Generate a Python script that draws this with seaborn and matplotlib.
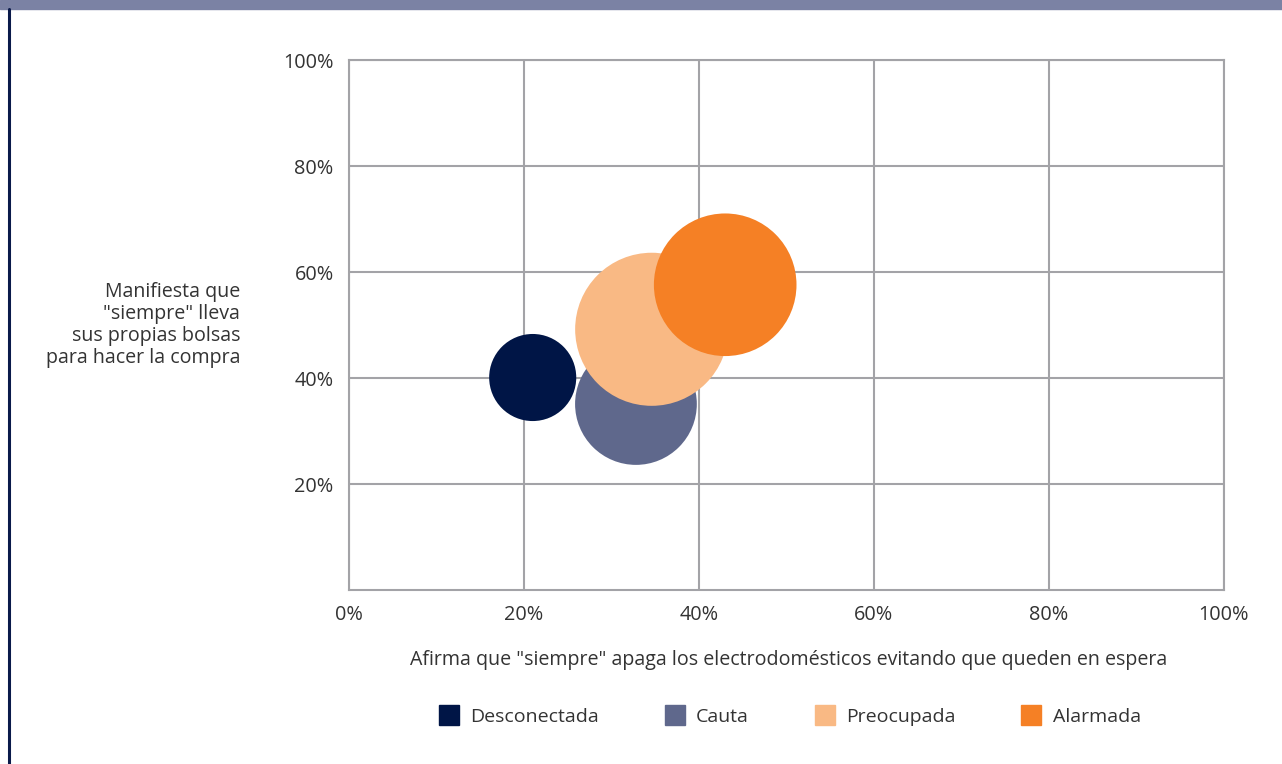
import pandas as pd
import seaborn as sns
import matplotlib.pyplot as plt
from matplotlib.lines import Line2D
from matplotlib.patches import Rectangle
from matplotlib.ticker import PercentFormatter

segmentos = ['Desconectada', 'Cauta', 'Preocupada', 'Alarmada']
apaga = [0.210, 0.328, 0.346, 0.430]      # eje x
bolsas = [0.401, 0.351, 0.492, 0.576]     # eje y
peso = [11.0, 21.5, 34.0, 29.5]           # tamaño de burbuja
colores = ['#001546', '#5f688c', '#f9b984', '#f58025']

x_ticks = [0, 0.2, 0.4, 0.6, 0.8, 1.0]
y_ticks = [0.2, 0.4, 0.6, 0.8, 1.0]

df = pd.DataFrame({'segmento': segmentos, 'apaga': apaga, 'bolsas': bolsas, 'peso': peso})

sns.set_style("white")
plt.rcParams['font.family'] = ['Open Sans', 'DejaVu Sans']
txt = '#333333'
gris = '#a3a3a7'

fig = plt.figure(figsize=(12.82, 7.64), dpi=100)
ax = fig.add_axes([0.2722, 0.2277, 0.6825, 0.6937])

sns.scatterplot(data=df, x='apaga', y='bolsas', hue='segmento', palette=colores,
                size='peso', sizes=(0, 12150), size_norm=(0, 34.0),
                linewidth=0, alpha=1, legend=False, ax=ax, zorder=3)

ax.set_xlim(0, 1)
ax.set_ylim(0, 1)
ax.set_xticks(x_ticks)
ax.set_yticks(y_ticks)
ax.xaxis.set_major_formatter(PercentFormatter(1.0, decimals=0))
ax.yaxis.set_major_formatter(PercentFormatter(1.0, decimals=0))
ax.grid(True, color=gris, linewidth=1.5)
ax.set_axisbelow(True)
for sp in ax.spines.values():
    sp.set_color(gris)
    sp.set_linewidth(1.5)
ax.tick_params(length=0, labelsize=14.3, labelcolor=txt, pad=11)
ax.set_xlabel('')
ax.set_ylabel('')

fig.text(789 / 1282, 1 - 660 / 764,
         'Afirma que "siempre" apaga los electrodomésticos evitando que queden en espera',
         ha='center', va='center', fontsize=14.1, color=txt)
fig.text(240 / 1282, 1 - 325 / 764,
         'Manifiesta que\n"siempre" lleva\nsus propias bolsas\npara hacer la compra',
         ha='right', va='center', multialignment='right', fontsize=14.1, color=txt,
         linespacing=1.15)

handles = [Line2D([], [], marker='s', linestyle='', markersize=15, color=c) for c in colores]
fig.legend(handles, segmentos, loc='center', bbox_to_anchor=(789 / 1282, 1 - 717 / 764),
           ncol=4, frameon=False, fontsize=14, labelcolor=txt,
           handletextpad=0.5, columnspacing=3.3, handlelength=1.2)

# banda superior y línea lateral
fig.patches.append(Rectangle((0, 1 - 9 / 764), 1, 9 / 764, transform=fig.transFigure,
                             color='#7b82a4', zorder=0))
fig.lines.append(Line2D([8.5 / 1282, 8.5 / 1282], [0, 1 - 9 / 764], transform=fig.transFigure,
                        color='#0a1a4a', linewidth=2.2))

plt.savefig('out.png', dpi=100)
